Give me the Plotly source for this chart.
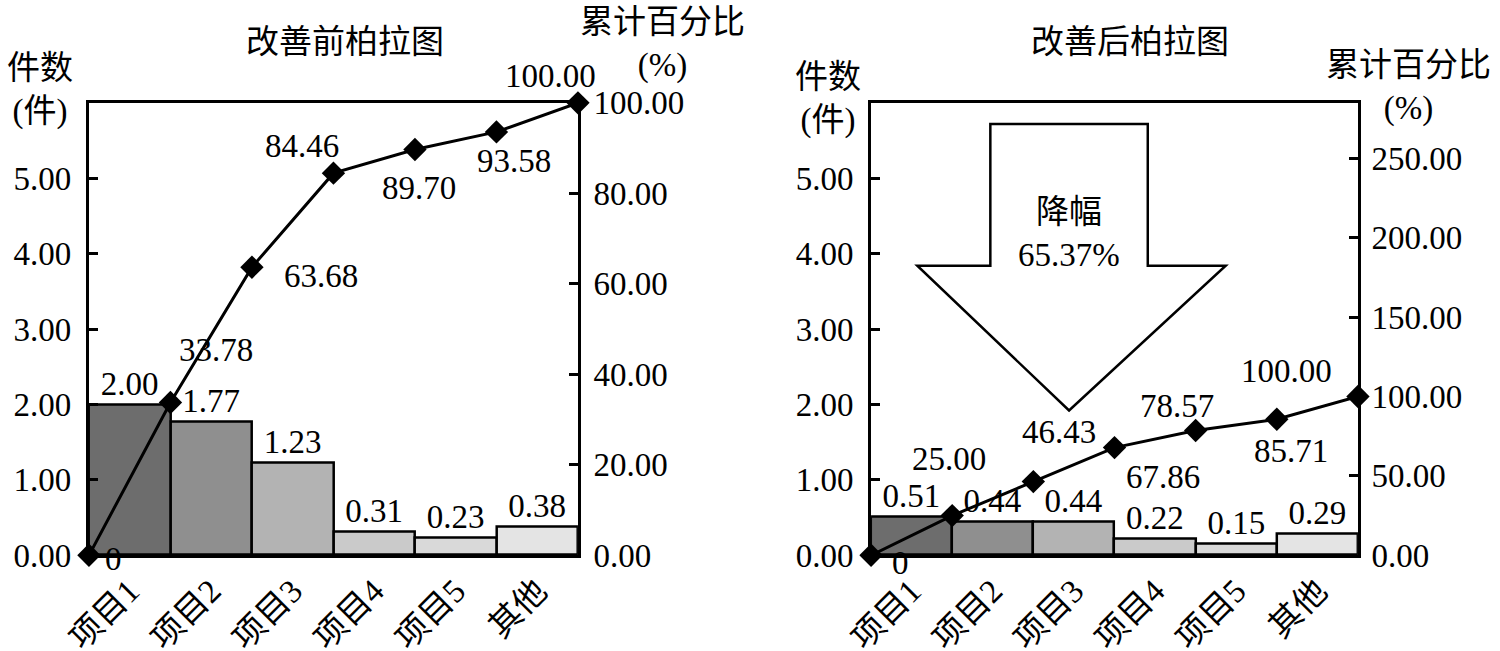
import plotly.graph_objects as go

categories = ["项目1", "项目2", "项目3", "项目4", "项目5", "其他"]

before_counts = [2.00, 1.77, 1.23, 0.31, 0.23, 0.38]
before_cum_pct = [0, 33.78, 63.68, 84.46, 89.70, 93.58, 100.00]

after_counts = [0.51, 0.44, 0.44, 0.22, 0.15, 0.29]
after_cum_pct = [0, 25.00, 46.43, 67.86, 78.57, 85.71, 100.00]

count_ticks = [0, 1, 2, 3, 4, 5]
before_pct_ticks = [0, 20, 40, 60, 80, 100]
after_pct_ticks = [0, 50, 100, 150, 200, 250]

bar_colors = ["#6d6d6d", "#8f8f8f", "#b3b3b3", "#cacaca", "#d9d9d9", "#e4e4e4"]

# pixel offsets of the cumulative % labels (dx, dy), hand placed like the original
before_label_shift = [(25, -4), (46, 52), (69, -9), (-31, 27), (4, -39), (18, -29), (-27, 27)]
after_label_shift = [(29, -8), (-3, 57), (26, 50), (48, -29), (-19, 25), (14, -32), (-71, 26)]

FONT = "Liberation Serif, Noto Sans CJK SC"
FS = 33

fig = go.Figure()


def add_pareto(counts, cum_pct, shifts, xa, ya, ya2):
    fig.add_trace(go.Bar(
        x=[i + 0.5 for i in range(len(counts))], y=counts, width=1,
        marker=dict(color=bar_colors, line=dict(color="black", width=2.5)),
        text=[f"{v:.2f}" for v in counts], textposition="outside",
        textfont=dict(size=FS, color="black", family=FONT),
        cliponaxis=False, xaxis=xa, yaxis=ya, showlegend=False,
    ))
    fig.add_trace(go.Scatter(
        x=list(range(len(cum_pct))), y=cum_pct, mode="lines+markers",
        line=dict(color="black", width=3),
        marker=dict(symbol="diamond", size=18, color="black"),
        cliponaxis=False, xaxis=xa, yaxis=ya2, showlegend=False,
    ))
    for i, (v, (dx, dy)) in enumerate(zip(cum_pct, shifts)):
        fig.add_annotation(
            x=i, y=v, xref=xa, yref=ya2, showarrow=False,
            xanchor="center", yanchor="middle",
            text="0" if v == 0 else f"{v:.2f}", xshift=dx, yshift=dy,
            font=dict(size=FS, color="black", family=FONT),
        )


add_pareto(before_counts, before_cum_pct, before_label_shift, "x", "y", "y2")
add_pareto(after_counts, after_cum_pct, after_label_shift, "x2", "y3", "y4")

ydom = [0.147, 0.842]
axis_style = dict(showline=True, linecolor="black", linewidth=3, showgrid=False,
                  zeroline=False, automargin=False,
                  tickfont=dict(size=FS, color="black", family=FONT))
xstyle = dict(axis_style, range=[0, 6], tickvals=[i + 0.5 for i in range(6)],
              ticktext=categories, tickangle=-45, ticks="", mirror=True)
ystyle = dict(axis_style, ticks="inside", ticklen=9, tickwidth=3, tickcolor="black",
              tickformat=".2f")

fig.update_layout(
    width=1500, height=651,
    margin=dict(l=0, r=0, t=0, b=0, autoexpand=False),
    paper_bgcolor="white", plot_bgcolor="white",
    bargap=0,
    xaxis=dict(xstyle, domain=[0.0593, 0.3853], anchor="y"),
    yaxis=dict(ystyle, domain=ydom, range=[0, 6], tickvals=count_ticks, anchor="x",
               ticklabelstandoff=8),
    yaxis2=dict(ystyle, range=[0, 100], tickvals=before_pct_ticks, overlaying="y",
                side="right", anchor="x", ticklabelstandoff=6),
    xaxis2=dict(xstyle, domain=[0.5807, 0.9053], anchor="y3"),
    yaxis3=dict(ystyle, domain=ydom, range=[0, 6], tickvals=count_ticks, anchor="x2",
                ticklabelstandoff=8),
    yaxis4=dict(ystyle, range=[0, 285], tickvals=after_pct_ticks, overlaying="y3",
                side="right", anchor="x2", ticklabelstandoff=4),
)

# big "reduction" arrow on the after chart
fig.add_shape(
    type="path", xref="x2", yref="y3",
    path="M 1.47,5.72 L 3.41,5.72 L 3.41,3.84 L 4.37,3.84 L 2.44,1.92 L 0.57,3.84 L 1.47,3.84 Z",
    fillcolor="white", line=dict(color="black", width=2.5),
)
fig.add_annotation(x=2.44, y=4.27, xref="x2", yref="y3", showarrow=False,
                   xanchor="center", yanchor="middle",
                   text="降幅<br>65.37%", font=dict(size=FS, color="black", family=FONT))

# titles and axis names
texts = [
    ("改善前柏拉图", 345, 42),
    ("改善后柏拉图", 1130, 42),
    ("件数<br>(件)", 40, 90),
    ("件数<br>(件)", 828, 99),
    ("累计百分比<br>(%)", 662, 44),
    ("累计百分比<br>(%)", 1408, 87),
]
for t, px, py in texts:
    fig.add_annotation(x=px / 1500, y=1 - py / 651, xref="paper", yref="paper",
                       xanchor="center", yanchor="middle", showarrow=False, text=t,
                       font=dict(size=FS, color="black", family=FONT))

fig.write_html("out.html", config={"displayModeBar": False},
               post_script="document.body.style.margin='0';")
